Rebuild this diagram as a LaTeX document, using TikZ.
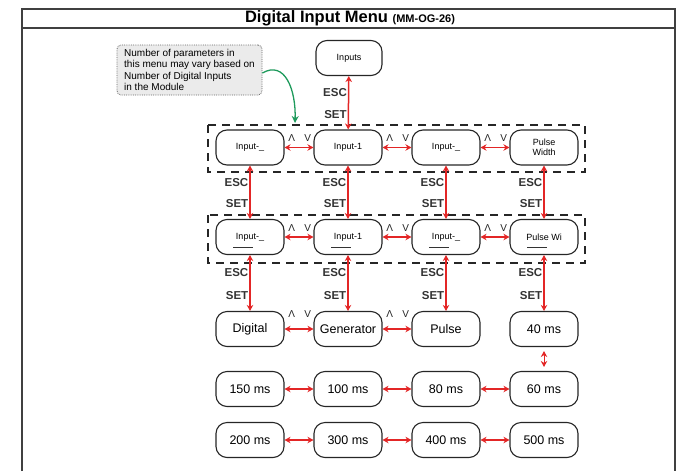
\documentclass[tikz,border=0pt]{standalone}
\usepackage{fontspec}
\setmainfont{Liberation Sans}
\usetikzlibrary{arrows.meta}
\definecolor{menured}{HTML}{E32626}
\definecolor{notegreen}{HTML}{1E9A5C}
\definecolor{notegray}{HTML}{EBEBEB}
\begin{document}
\begin{tikzpicture}[x=1pt, y=-1pt,
    menu/.style={draw=black!85, line width=1.1pt, rounded corners=11pt, minimum width=68pt, minimum height=35pt,
      inner sep=1pt, align=center, font=\fontsize{9}{10}\selectfont},
    bigmenu/.style={menu, font=\fontsize{12.5}{14}\selectfont},
    nav/.style={menured, line width=1.5pt, {Stealth[length=6pt,width=6.5pt]}-{Stealth[length=6pt,width=6.5pt]}},
    key/.style={font=\bfseries\fontsize{11.5}{13}\selectfont, text=black!80, inner sep=1pt},
    updown/.style={font=\fontsize{10}{11}\selectfont, text=black!85, inner sep=0pt},
    group/.style={draw=black!85, line width=1.6pt, dash pattern=on 8pt off 6pt},
    note/.style={draw=black!60, densely dotted, line width=0.8pt, fill=notegray, rounded corners=4pt, align=left,
      minimum width=145pt, minimum height=50pt, inner sep=2pt, font=\fontsize{10}{11.5}\selectfont}]
  \useasboundingbox (0,0) rectangle (679,471);
  % Frame and title
  \draw[line width=1.2pt, black!75] (22,471) -- (22,9) -- (675,9) -- (675,471);
  \draw[line width=1.2pt, black!75] (22,28) -- (675,28);
  \node (title) at (350,18.5) {\bfseries\fontsize{16.5}{18}\selectfont Digital Input Menu \fontsize{11}{12}\selectfont(MM-OG-26)};
  % Note
  \node[note] (note) at (189.5,70) {Number of parameters in\\this menu may vary based on\\Number of Digital Inputs\\in the Module};
  \coordinate (notetip) at (295,123);
  \draw[notegreen, line width=1.3pt, -{Stealth[length=7pt,width=7pt]}] ([yshift=-3pt]note.east) .. controls (285,60) and (296,90) .. (notetip);
  % Top level
  \node[menu, minimum width=66pt] (inputs) at (349,58) {Inputs};
  % Parameter selection
  \node[menu] (sela) at (250,147.5) {Input-\_};
  \node[menu] (selb) at (348,147.5) {Input-1};
  \node[menu] (selc) at (446,147.5) {Input-\_};
  \node[menu] (seld) at (544,147.5) {Pulse\\Width};
  % Parameter edit
  \node[menu] (edita) at (250,237) {Input-\_};
  \node[menu] (editb) at (348,237) {Input-1};
  \node[menu] (editc) at (446,237) {Input-\_};
  \node[menu] (editd) at (544,237) {Pulse Wi};
  \foreach \n in {edita,editb,editc,editd}
    \draw[line width=0.9pt, black!80] ([shift={(-17,10)}]\n.center) -- ++(20,0);
  % Values
  \node[bigmenu] (typea) at (250,329) {Digital};
  \node[bigmenu] (typeb) at (348,329) {Generator};
  \node[bigmenu] (typec) at (446,329) {Pulse};
  \node[bigmenu] (w40) at (544,329) {40 ms};
  \node[bigmenu] (w150) at (250,389) {150 ms};
  \node[bigmenu] (w100) at (348,389) {100 ms};
  \node[bigmenu] (w80) at (446,389) {80 ms};
  \node[bigmenu] (w60) at (544,389) {60 ms};
  \node[bigmenu] (w200) at (250,440) {200 ms};
  \node[bigmenu] (w300) at (348,440) {300 ms};
  \node[bigmenu] (w400) at (446,440) {400 ms};
  \node[bigmenu] (w500) at (544,440) {500 ms};
  % Dashed groups
  \draw[group] (208,125) rectangle (585,172);
  \draw[group] (208,215) rectangle (585,263);
  % ESC / SET
  \draw[nav] (inputs) -- node[key, pos=.31, left] {ESC} node[key, pos=.72, left] {SET} (selb);
  \draw[nav] (sela) -- node[key, pos=.31, left] {ESC} node[key, pos=.72, left] {SET} (edita);
  \draw[nav] (selb) -- node[key, pos=.31, left] {ESC} node[key, pos=.72, left] {SET} (editb);
  \draw[nav] (selc) -- node[key, pos=.31, left] {ESC} node[key, pos=.72, left] {SET} (editc);
  \draw[nav] (seld) -- node[key, pos=.31, left] {ESC} node[key, pos=.72, left] {SET} (editd);
  \draw[nav] (edita) -- node[key, pos=.31, left] {ESC} node[key, pos=.72, left] {SET} (typea);
  \draw[nav] (editb) -- node[key, pos=.31, left] {ESC} node[key, pos=.72, left] {SET} (typeb);
  \draw[nav] (editc) -- node[key, pos=.31, left] {ESC} node[key, pos=.72, left] {SET} (typec);
  \draw[nav] (editd) -- node[key, pos=.31, left] {ESC} node[key, pos=.72, left] {SET} (w40);
  % Up / down
  \draw[nav] (sela) -- node[updown, pos=.25, above=5pt] {Λ} node[updown, pos=.8, above=5pt] {V} (selb);
  \draw[nav] (selb) -- node[updown, pos=.25, above=5pt] {Λ} node[updown, pos=.8, above=5pt] {V} (selc);
  \draw[nav] (selc) -- node[updown, pos=.25, above=5pt] {Λ} node[updown, pos=.8, above=5pt] {V} (seld);
  \draw[nav] (edita) -- node[updown, pos=.25, above=5pt] {Λ} node[updown, pos=.8, above=5pt] {V} (editb);
  \draw[nav] (editb) -- node[updown, pos=.25, above=5pt] {Λ} node[updown, pos=.8, above=5pt] {V} (editc);
  \draw[nav] (editc) -- node[updown, pos=.25, above=5pt] {Λ} node[updown, pos=.8, above=5pt] {V} (editd);
  \draw[nav] (typea) -- node[updown, pos=.25, above=11pt] {Λ} node[updown, pos=.8, above=11pt] {V} (typeb);
  \draw[nav] (typeb) -- node[updown, pos=.25, above=11pt] {Λ} node[updown, pos=.8, above=11pt] {V} (typec);
  % Pulse width values
  \draw[nav, line width=1pt, shorten <=4pt, shorten >=4pt] (w40) -- (w60);
  \draw[nav] (w150) -- (w100);
  \draw[nav] (w100) -- (w80);
  \draw[nav] (w80) -- (w60);
  \draw[nav] (w200) -- (w300);
  \draw[nav] (w300) -- (w400);
  \draw[nav] (w400) -- (w500);
\end{tikzpicture}
\end{document}
